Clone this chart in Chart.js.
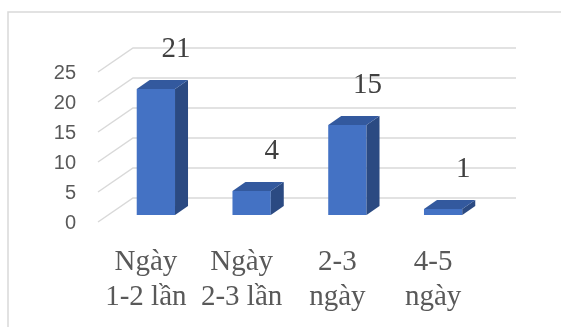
<!DOCTYPE html>
<html>
<head>
<meta charset="utf-8">
<script src="https://cdn.jsdelivr.net/npm/chart.js@4/dist/chart.umd.min.js"></script>
<style>
  html, body { margin: 0; padding: 0; background: #fff; }
  #wrap { width: 561px; height: 327px; }
</style>
</head>
<body>
<div id="wrap"><canvas id="chart" width="561" height="327"></canvas></div>
<script>
// Chart data
const categories = [['Ngày', '1-2 lần'], ['Ngày', '2-3 lần'], ['2-3', 'ngày'], ['4-5', 'ngày']];
const counts = [21, 4, 15, 1];
const yTicks = [0, 5, 10, 15, 20, 25];

// 3D look: depth offsets of the bar and of the floor/wall box
const barDepth = { dx: 13, dy: -9 };
const wallFront = { dx: -10, dy: 7 };
const wallBack = { dx: 25, dy: -17 };

const frame = {
  id: 'frame',
  beforeDraw(chart) {
    const ctx = chart.ctx;
    ctx.save();
    ctx.fillStyle = '#fff';
    ctx.fillRect(0, 0, chart.width, chart.height);
    ctx.strokeStyle = '#d9d9d9';
    ctx.lineWidth = 1.5;
    ctx.strokeRect(8, 12, chart.width, chart.height);
    ctx.restore();
  }
};

const grid3d = {
  id: 'grid3d',
  beforeDatasetsDraw(chart) {
    const ctx = chart.ctx;
    const y = chart.scales.y;
    const area = chart.chartArea;
    ctx.save();
    ctx.strokeStyle = '#d9d9d9';
    ctx.lineWidth = 1.5;
    yTicks.forEach(function (v) {
      const py = y.getPixelForValue(v);
      ctx.beginPath();
      ctx.moveTo(area.left + wallFront.dx, py + wallFront.dy);
      ctx.lineTo(area.left + wallBack.dx, py + wallBack.dy);
      ctx.lineTo(area.right + wallBack.dx, py + wallBack.dy);
      ctx.stroke();
    });
    ctx.restore();
  }
};

const bars3d = {
  id: 'bars3d',
  afterDatasetsDraw(chart) {
    const ctx = chart.ctx;
    const meta = chart.getDatasetMeta(0);
    ctx.save();
    meta.data.forEach(function (bar, i) {
      const l = bar.x - bar.width / 2;
      const r = bar.x + bar.width / 2;
      const t = bar.y;
      const b = bar.base;
      // side face
      ctx.fillStyle = '#2b4a82';
      ctx.beginPath();
      ctx.moveTo(r, b);
      ctx.lineTo(r, t);
      ctx.lineTo(r + barDepth.dx, t + barDepth.dy);
      ctx.lineTo(r + barDepth.dx, b + barDepth.dy);
      ctx.closePath();
      ctx.fill();
      // top face
      ctx.fillStyle = '#33599e';
      ctx.beginPath();
      ctx.moveTo(l, t);
      ctx.lineTo(r, t);
      ctx.lineTo(r + barDepth.dx, t + barDepth.dy);
      ctx.lineTo(l + barDepth.dx, t + barDepth.dy);
      ctx.closePath();
      ctx.fill();

      // value label
      ctx.fillStyle = '#404040';
      ctx.font = '29px "Liberation Serif", "Times New Roman", serif';
      ctx.textAlign = 'center';
      ctx.textBaseline = 'alphabetic';
      ctx.fillText(String(counts[i]), bar.x + 20, t - 32);
    });
    ctx.restore();
  }
};

new Chart(document.getElementById('chart'), {
  type: 'bar',
  data: {
    labels: categories,
    datasets: [{
      data: counts,
      backgroundColor: '#4472c4',
      borderWidth: 0,
      barPercentage: 0.4,
      categoryPercentage: 1
    }]
  },
  options: {
    responsive: false,
    animation: false,
    devicePixelRatio: 1,
    layout: { padding: { top: 65, right: 70, left: 0, bottom: 0 } },
    plugins: {
      legend: { display: false },
      tooltip: { enabled: false }
    },
    scales: {
      x: {
        grid: { display: false, drawTicks: false },
        border: { display: false },
        ticks: {
          color: '#595959',
          font: { family: '"Liberation Serif", "Times New Roman", serif', size: 29, lineHeight: 1.2 },
          padding: 30,
          labelOffset: -10,
          maxRotation: 0,
          autoSkip: false
        },
        afterFit(scale) { scale.height = 112; }
      },
      y: {
        min: 0,
        max: 25,
        grid: { display: false, drawTicks: false },
        border: { display: false },
        ticks: {
          stepSize: 5,
          color: '#595959',
          font: { family: '"Liberation Sans", Arial, sans-serif', size: 20 },
          padding: 32,
          labelOffset: 8
        },
        afterFit(scale) { scale.width = 108; }
      }
    }
  },
  plugins: [frame, grid3d, bars3d]
});
</script>
</body>
</html>
